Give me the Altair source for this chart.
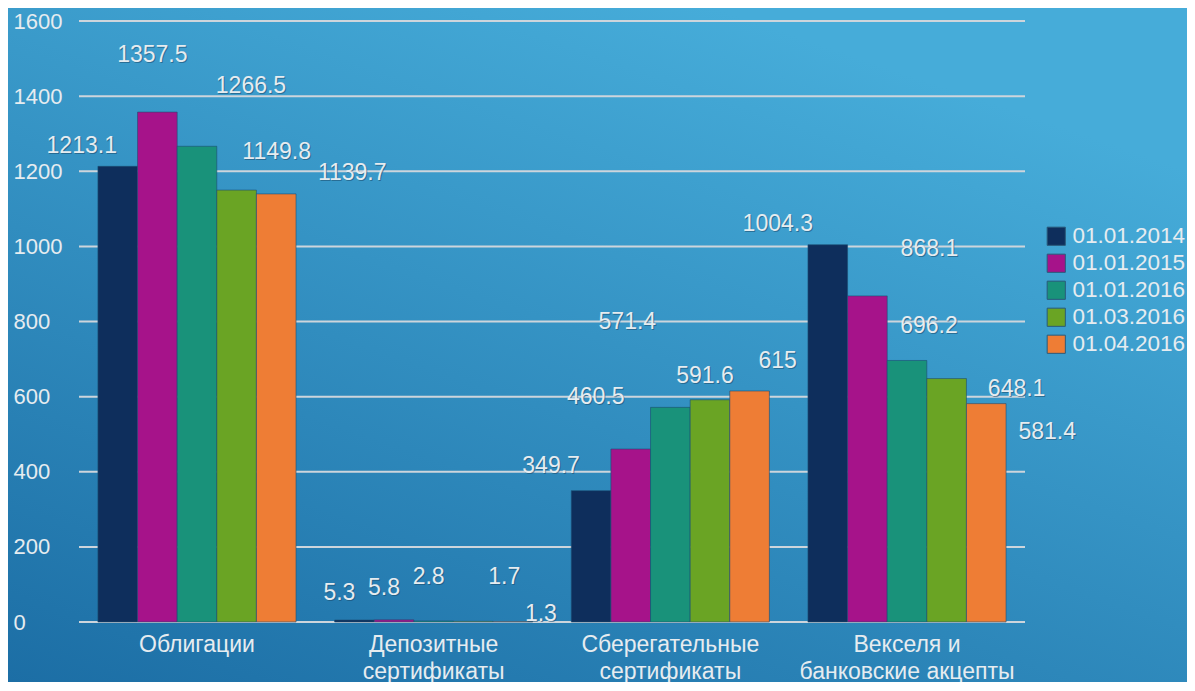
import altair as alt
import pandas as pd

categories = ["Облигации", "Депозитные сертификаты", "Сберегательные сертификаты", "Векселя и банковские акцепты"]
series = ["01.01.2014", "01.01.2015", "01.01.2016", "01.03.2016", "01.04.2016"]
colors = ["#0e2e5c", "#a6138a", "#19927a", "#6aa424", "#ee7d35"]

v_2014_01 = [1213.1, 5.3, 349.7, 1004.3]
v_2015_01 = [1357.5, 5.8, 460.5, 868.1]
v_2016_01 = [1266.5, 2.8, 571.4, 696.2]
v_2016_03 = [1149.8, 1.7, 591.6, 648.1]
v_2016_04 = [1139.7, 1.3, 615, 581.4]
values = [v_2014_01, v_2015_01, v_2016_01, v_2016_03, v_2016_04]

# label offsets (pixels) from each bar's top centre, per series, per category
label_dx = [[-36, -15, -40, -50], [-5, -10, -35, 62], [54, -5, -43, 22], [40, 31, -5, 70], [76, 28, 28, 61]]
label_dy = [[-20, -27, -25, -21], [-57, -32, -52, -47], [-60, -44, -85, -34], [-38, -44, -24, 10], [-21, -8, -30, 28]]

grid_ticks = [0, 200, 400, 600, 800, 1000, 1200, 1400, 1600]

rows = []
for si, s in enumerate(series):
    for ci, c in enumerate(categories):
        rows.append({"category": c, "series": s, "value": values[si][ci],
                     "label": f"{values[si][ci]:g}",
                     "ldx": label_dx[si][ci], "ldy": label_dy[si][ci]})
df = pd.DataFrame(rows)

W, H = 946, 601
PL, PT, PR, PB = 71, 13, 162, 60
FONT = "Liberation Sans"
TXT = "#e6ecf0"

bg = alt.Chart(pd.DataFrame({"a": [0]})).mark_rect(
    fill={"gradient": "linear", "x1": 0, "y1": 1, "x2": 0.6, "y2": 0,
          "stops": [{"offset": 0, "color": "#1c6ea5"}, {"offset": 1, "color": "#46acd9"}]},
    stroke=None
).encode(x=alt.value(-PL), x2=alt.value(W + PR), y=alt.value(-PT), y2=alt.value(H + PB))

grid = alt.Chart(pd.DataFrame({"t": grid_ticks})).mark_rule(
    color="#cdd5dc", strokeWidth=2
).encode(
    y=alt.Y("t:Q", scale=alt.Scale(domain=[0, 1600], nice=False)),
    x=alt.value(0), x2=alt.value(W)
)

xenc = alt.X("category:N", sort=categories, title=None,
             scale=alt.Scale(paddingInner=0.163, paddingOuter=0.08),
             axis=alt.Axis(labelAngle=0, domain=False, ticks=False, labelFont=FONT,
                           labelFontSize=23, labelColor=TXT, labelPadding=11,
                           labelLineHeight=27, labelBaseline="top", zindex=1, labelLimit=400,
                           labelExpr="datum.value == 'Векселя и банковские акцепты' ? ['Векселя и', 'банковские акцепты'] : split(datum.value, ' ')"))
yenc = alt.Y("value:Q", scale=alt.Scale(domain=[0, 1600], nice=False), title=None,
             axis=alt.Axis(values=grid_ticks, format="d", grid=False, domain=False, ticks=False,
                           labelAlign="left", labelPadding=66, labelFont=FONT, zindex=1,
                           labelFontSize=22, labelColor=TXT))

bars = alt.Chart(df).mark_bar(stroke="#1d4f73", strokeWidth=1, strokeOpacity=0.6).encode(
    x=xenc,
    xOffset=alt.XOffset("series:N", sort=series),
    y=yenc,
    color=alt.Color("series:N", sort=series,
                    scale=alt.Scale(domain=series, range=colors),
                    legend=alt.Legend(title=None, orient="none", legendX=966, legendY=204,
                                      symbolType="square", symbolSize=330,
                                      symbolStrokeColor="#2a5a7a", symbolStrokeWidth=1,
                                      labelFont=FONT, labelFontSize=22.5, labelColor=TXT,
                                      labelOffset=5, rowPadding=4, labelLimit=200))
)

shadow = alt.Chart(df).mark_text(
    font=FONT, fontSize=23, color="#1b4b6c", opacity=0.55, baseline="middle", align="center",
    dx=alt.ExprRef("datum.ldx + 1"), dy=alt.ExprRef("datum.ldy + 1")
).encode(
    x=alt.X("category:N", sort=categories),
    xOffset=alt.XOffset("series:N", sort=series),
    y=alt.Y("value:Q"),
    text="label:N"
)

labels = alt.Chart(df).mark_text(
    font=FONT, fontSize=23, color=TXT, baseline="middle", align="center",
    dx=alt.ExprRef("datum.ldx"), dy=alt.ExprRef("datum.ldy")
).encode(
    x=alt.X("category:N", sort=categories),
    xOffset=alt.XOffset("series:N", sort=series),
    y=alt.Y("value:Q"),
    text="label:N"
)

chart = alt.layer(bg, grid, bars, shadow, labels).properties(
    width=W, height=H,
    padding={"left": PL, "top": PT, "right": PR, "bottom": PB},
    autosize=alt.AutoSizeParams(type="none"),
    background="#2a88bd"
).configure_view(stroke=None)

chart.save("out.html", embed_options={"renderer": "svg", "actions": False})
